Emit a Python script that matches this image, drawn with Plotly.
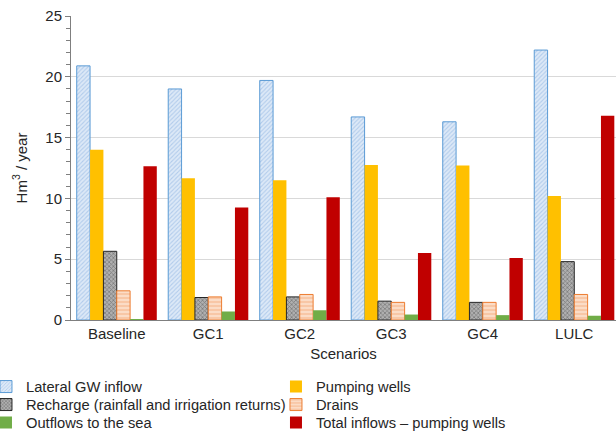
import plotly.graph_objects as go

scenarios = ["Baseline", "GC1", "GC2", "GC3", "GC4", "LULC"]

lateral_gw_inflow = [20.9, 19.0, 19.7, 16.7, 16.3, 22.2]
pumping_wells = [14.0, 11.65, 11.5, 12.75, 12.7, 10.2]
recharge = [5.65, 1.85, 1.9, 1.55, 1.45, 4.8]
drains = [2.4, 1.9, 2.1, 1.45, 1.45, 2.1]
outflows_sea = [0.05, 0.7, 0.8, 0.45, 0.4, 0.35]
total_minus_pumping = [12.65, 9.25, 10.1, 5.5, 5.1, 16.8]

font_family = "Liberation Sans, Arial, sans-serif"
text_color = "#262626"

fig = go.Figure()

# One legend per entry, laid out as a two-column grid under the axes
fig.add_trace(go.Bar(
    name="Lateral GW inflow", x=scenarios, y=lateral_gw_inflow, legend="legend",
    marker=dict(color="#dde9f7", line=dict(color="#5b9bd5", width=1),
                pattern=dict(shape="/", fgcolor="#86aee0", bgcolor="#dde9f7",
                             size=3, solidity=0.35)),
))
fig.add_trace(go.Bar(
    name="Pumping wells", x=scenarios, y=pumping_wells, legend="legend2",
    marker=dict(color="#ffc000", line=dict(width=0)),
))
fig.add_trace(go.Bar(
    name="Recharge (rainfall and irrigation returns)", x=scenarios, y=recharge,
    legend="legend3",
    marker=dict(color="#8c8c8c", line=dict(color="#262626", width=1),
                pattern=dict(shape="x", fgcolor="#3a3a3a", bgcolor="#b0b0b0",
                             size=3, solidity=0.4)),
))
fig.add_trace(go.Bar(
    name="Drains", x=scenarios, y=drains, legend="legend4",
    marker=dict(color="#fad3b8", line=dict(color="#ed7d31", width=1),
                pattern=dict(shape="-", fgcolor="#f2a06a", bgcolor="#fbdcc6",
                             size=4, solidity=0.35)),
))
fig.add_trace(go.Bar(
    name="Outflows to the sea", x=scenarios, y=outflows_sea, legend="legend5",
    marker=dict(color="#70ad47", line=dict(width=0)),
))
fig.add_trace(go.Bar(
    name="Total inflows \u2013 pumping wells", x=scenarios, y=total_minus_pumping,
    legend="legend6",
    marker=dict(color="#c00000", line=dict(width=0)),
))


def legend_entry(x, y):
    return dict(
        orientation="h", x=x, xanchor="left", y=y, yanchor="middle",
        font=dict(family=font_family, size=14.7, color=text_color),
        itemwidth=30, bgcolor="rgba(0,0,0,0)", borderwidth=0,
    )


col_left, col_right = -0.156, 0.3761
rows = [-0.2204, -0.2796, -0.3388]

fig.update_layout(
    width=616, height=436,
    margin=dict(l=71, r=0, t=16, b=116, autoexpand=False),
    paper_bgcolor="white", plot_bgcolor="white",
    font=dict(family=font_family, size=15, color=text_color),
    barmode="group", bargap=0.125, bargroupgap=0,
    showlegend=True,
    legend=legend_entry(col_left, rows[0]),
    legend2=legend_entry(col_right, rows[0]),
    legend3=legend_entry(col_left, rows[1]),
    legend4=legend_entry(col_right, rows[1]),
    legend5=legend_entry(col_left, rows[2]),
    legend6=legend_entry(col_right, rows[2]),
)

fig.update_xaxes(
    range=[-0.5, 5.456],
    showline=True, linecolor="#7f7f7f", linewidth=1,
    ticks="", showgrid=False,
    tickfont=dict(size=15, color=text_color),
    title=dict(text="Scenarios", font=dict(size=15, color=text_color), standoff=7),
)

fig.update_yaxes(
    range=[0, 25], dtick=5,
    showline=True, linecolor="#7f7f7f", linewidth=1,
    showgrid=True, gridcolor="#d9d9d9", gridwidth=1,
    ticks="outside", ticklen=5, tickcolor="#7f7f7f",
    minor=dict(dtick=1, ticks="outside", ticklen=4, tickcolor="#7f7f7f", showgrid=False),
    tickfont=dict(size=15, color=text_color),
    title=dict(text="Hm<sup>3</sup> / year", font=dict(size=15, color=text_color), standoff=14),
    zeroline=False,
)

fig.write_html("out.html")
